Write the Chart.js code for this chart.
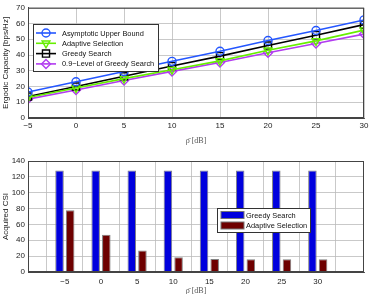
<!DOCTYPE html>
<html>
<head>
<meta charset="utf-8">
<script src="https://cdn.jsdelivr.net/npm/chart.js@4/dist/chart.umd.min.js"></script>
<style>
  body { margin: 0; background: #fff; }
  canvas { display: block; }
</style>
</head>
<body>
<canvas id="capChart" width="374" height="145"></canvas>
<canvas id="csiChart" width="374" height="149"></canvas>
<script>
// data
const snr = [-5, 0, 5, 10, 15, 20, 25, 30];
const upperBound = [16.5, 23, 29.5, 36, 42.4, 49.2, 55.6, 62.3];
const adaptiveCap = [13, 19, 25, 30.7, 36.3, 43, 49, 55.8];
const greedyCap = [13.6, 20, 26.5, 33, 39.3, 46, 52.6, 59.3];
const levelCap = [12, 17.8, 23.8, 29.6, 35.3, 41.4, 47.3, 53.3];
const capTicks = [0, 10, 20, 30, 40, 50, 60, 70];

const greedyCsi = [128, 128, 128, 128, 128, 128, 128, 128];
const adaptiveCsi = [78, 47, 27, 18.5, 16.5, 16, 16, 16];
const csiTicks = [0, 20, 40, 60, 80, 100, 120, 140];

const FONT = "'Liberation Sans', Arial, sans-serif";
const SERIF = "'Liberation Serif', 'DejaVu Serif', serif";
const grid = { color: "#bbbbbb", borderDash: [1, 2], drawTicks: false, lineWidth: 0.8 };

function pts(xs, ys) { return xs.map((x, i) => ({ x: x, y: ys[i] })); }

// box around plot + legend inside plot
const boxLegend = {
    id: "boxLegend",
    afterDraw(chart, args, opts) {
        const ctx = chart.ctx, a = chart.chartArea;
        ctx.save();
        ctx.strokeStyle = "#444";
        ctx.lineWidth = 1;
        ctx.strokeRect(a.left + 0.5, a.top + 0.5, a.right - a.left - 1, a.bottom - a.top - 1);
        const L = opts.box;
        if (!L) { ctx.restore(); return; }
        ctx.fillStyle = "#fff";
        ctx.fillRect(L.x, L.y, L.w, L.h);
        ctx.strokeStyle = "#333";
        ctx.strokeRect(L.x + 0.5, L.y + 0.5, L.w, L.h);
        ctx.textBaseline = "middle";
        chart.data.datasets.forEach((ds, i) => {
            const y = L.y + L.rowTop + i * L.rowGap;
            if (opts.kind === "line") {
                ctx.strokeStyle = ds.borderColor;
                ctx.lineWidth = ds.borderWidth;
                ctx.beginPath();
                ctx.moveTo(L.x + 3, y);
                ctx.lineTo(L.x + 23, y);
                ctx.stroke();
                ctx.fillStyle = "rgba(0,0,0,0)";
                ctx.lineWidth = ds.pointBorderWidth;
                Chart.helpers.drawPoint(ctx, {
                    pointStyle: ds.pointStyle, radius: ds.pointRadius,
                    rotation: ds.pointRotation || 0, borderWidth: ds.pointBorderWidth
                }, L.x + 13, y);
            } else {
                ctx.fillStyle = ds.backgroundColor;
                ctx.fillRect(L.x + 4, y - 3.5, 23, 7);
                ctx.strokeStyle = "#777";
                ctx.lineWidth = 1;
                ctx.strokeRect(L.x + 4, y - 3.5, 23, 7);
            }
            ctx.font = L.font + "px " + FONT;
            ctx.fillStyle = "#111";
            ctx.fillText(ds.label, L.x + L.textX, y + 0.5);
        });
        ctx.restore();
    }
};

function lineSet(label, data, color, style, rot, r) {
    return {
        label: label, data: pts(snr, data),
        borderColor: color, backgroundColor: color, borderWidth: 1.6,
        pointStyle: style, pointRotation: rot, pointRadius: r,
        pointBorderColor: color, pointBackgroundColor: "rgba(0,0,0,0)",
        pointBorderWidth: 1.4, tension: 0
    };
}

new Chart(document.getElementById("capChart"), {
    type: "line",
    data: {
        datasets: [
            lineSet("Asymptotic Upper Bound", upperBound, "#2456ff", "circle", 0, 4),
            lineSet("Adaptive Selection", adaptiveCap, "#66ee00", "triangle", 180, 4.5),
            lineSet("Greedy Search", greedyCap, "#000000", "rect", 0, 5),
            lineSet("0.9\u2212Level of Greedy Search", levelCap, "#b23cf0", "rectRot", 0, 4.5)
        ]
    },
    options: {
        responsive: false,
        animation: false,
        layout: { padding: { top: 7, right: 10, left: 0, bottom: 0 } },
        plugins: {
            legend: { display: false },
            tooltip: { enabled: false },
            boxLegend: { kind: "line", box: { x: 33, y: 24, w: 125, h: 47, rowTop: 9, rowGap: 10.3, textX: 29, font: 7.4 } }
        },
        scales: {
            x: {
                type: "linear", min: -5, max: 30,
                grid: grid, border: { color: "#444" },
                afterBuildTicks: s => { s.ticks = snr.map(v => ({ value: v })); },
                afterFit: s => { s.height = 27; },
                ticks: { font: { size: 8, family: FONT }, color: "#222", padding: 3,
                    callback: v => String(v).replace("-", "\u2212") },
                title: { display: true, text: "\u03c1\u0304 [dB]", font: { size: 8, family: SERIF }, color: "#555", padding: { top: 0, bottom: -1 } }
            },
            y: {
                min: 0, max: 70,
                grid: grid, border: { color: "#444" },
                afterBuildTicks: s => { s.ticks = capTicks.map(v => ({ value: v })); },
                afterFit: s => { s.width = 28; },
                ticks: { font: { size: 8, family: FONT }, color: "#222", padding: 3 },
                title: { display: true, text: "Ergodic Capacity [bps/Hz]", font: { size: 8, family: FONT }, color: "#222", padding: { top: 1, bottom: 0 } }
            }
        }
    },
    plugins: [boxLegend]
});

new Chart(document.getElementById("csiChart"), {
    type: "bar",
    data: {
        datasets: [
            { label: "Greedy Search", data: pts(snr, greedyCsi), backgroundColor: "#0000dd",
              borderColor: "#808080", borderWidth: 1 },
            { label: "Adaptive Selection", data: pts(snr, adaptiveCsi), backgroundColor: "#6e0000",
              borderColor: "#808080", borderWidth: 1 }
        ]
    },
    options: {
        responsive: false,
        animation: false,
        categoryPercentage: 0.59,
        barPercentage: 0.8,
        layout: { padding: { top: 16, right: 10, left: 0, bottom: 0 } },
        plugins: {
            legend: { display: false },
            tooltip: { enabled: false },
            boxLegend: { kind: "bar", box: { x: 217, y: 63, w: 93, h: 24, rowTop: 7, rowGap: 10.5, textX: 29, font: 7.4 } }
        },
        scales: {
            x: {
                type: "linear", min: -10.1, max: 36.4, offset: false,
                grid: grid, border: { color: "#444" },
                afterBuildTicks: s => { s.ticks = snr.map(v => ({ value: v })); },
                afterFit: s => { s.height = 22; },
                ticks: { font: { size: 8, family: FONT }, color: "#222", padding: 5,
                    callback: v => String(v).replace("-", "\u2212") },
                title: { display: true, text: "\u03c1\u0304 [dB]", font: { size: 8, family: SERIF }, color: "#555", padding: { top: 0, bottom: -2 } }
            },
            y: {
                min: 0, max: 140,
                grid: grid, border: { color: "#444" },
                afterBuildTicks: s => { s.ticks = csiTicks.map(v => ({ value: v })); },
                afterFit: s => { s.width = 28; },
                ticks: { font: { size: 8, family: FONT }, color: "#222", padding: 3 },
                title: { display: true, text: "Acquired CSI", font: { size: 8, family: FONT }, color: "#222", padding: { top: 1, bottom: 0 } }
            }
        }
    },
    plugins: [boxLegend]
});
</script>
</body>
</html>
